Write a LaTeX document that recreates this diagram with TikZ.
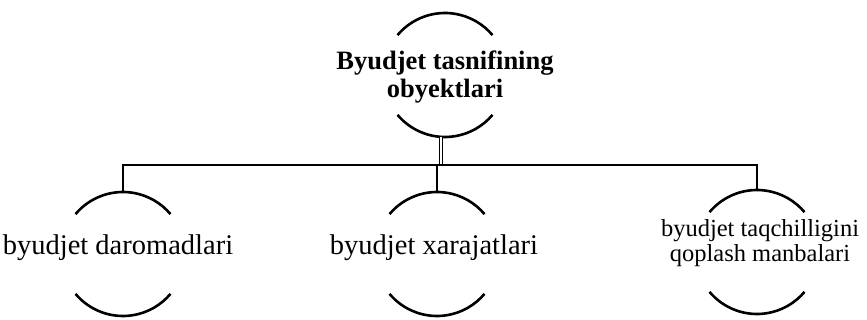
\documentclass[tikz,border=0pt]{standalone}
\usepackage{fontspec}
\setmainfont{Liberation Serif}
\begin{document}
\begin{tikzpicture}[x=1pt,y=-1pt,
  ring/.style={circle,minimum size=124pt,inner sep=0pt,outer sep=0pt},
  arcline/.style={line width=2.6pt},
  link/.style={line width=2pt},
  lbl/.style={align=center,inner sep=0pt,font=\fontsize{28.5}{30}\selectfont},
  lblsmall/.style={align=center,inner sep=0pt,font=\fontsize{24.5}{25}\selectfont},
  toplbl/.style={align=center,inner sep=0pt,font=\fontsize{26.5}{28.5}\selectfont\bfseries}]
\useasboundingbox (0,0) rectangle (867,320);
% circles (invisible nodes, drawn as arcs)
\node[ring] (top) at (445,75) {};
\node[ring] (left) at (123,254) {};
\node[ring] (mid) at (437,254) {};
\node[ring] (right) at (757,252) {};
% labels
\node[toplbl] (toptxt) at ([yshift=-2pt]top.center) {Byudjet tasnifining\\obyektlari};
\node[lbl] (lefttxt) at (118,248) {byudjet daromadlari};
\node[lbl] (midtxt) at (434,248) {byudjet xarajatlari};
\node[lblsmall] (righttxt) at (760,243) {byudjet taqchilligini\\qoplash manbalari};
% arcs
\foreach \n in {top,left,mid,right}{
  \draw[arcline] (\n.140) arc[start angle=140,end angle=40,radius=62pt];
  \draw[arcline] (\n.220) arc[start angle=220,end angle=320,radius=62pt];
}
% bus
\coordinate (bus) at (441,165);
\coordinate (tj) at ([xshift=-4pt]top.south);
\draw[double,double distance=2pt,line width=1.4pt] (tj) -- (tj |- bus);
\draw[link] (left.north) |- (bus) -| (right.north);
\draw[link] (mid.north) -- (mid.north |- bus);
\end{tikzpicture}
\end{document}
